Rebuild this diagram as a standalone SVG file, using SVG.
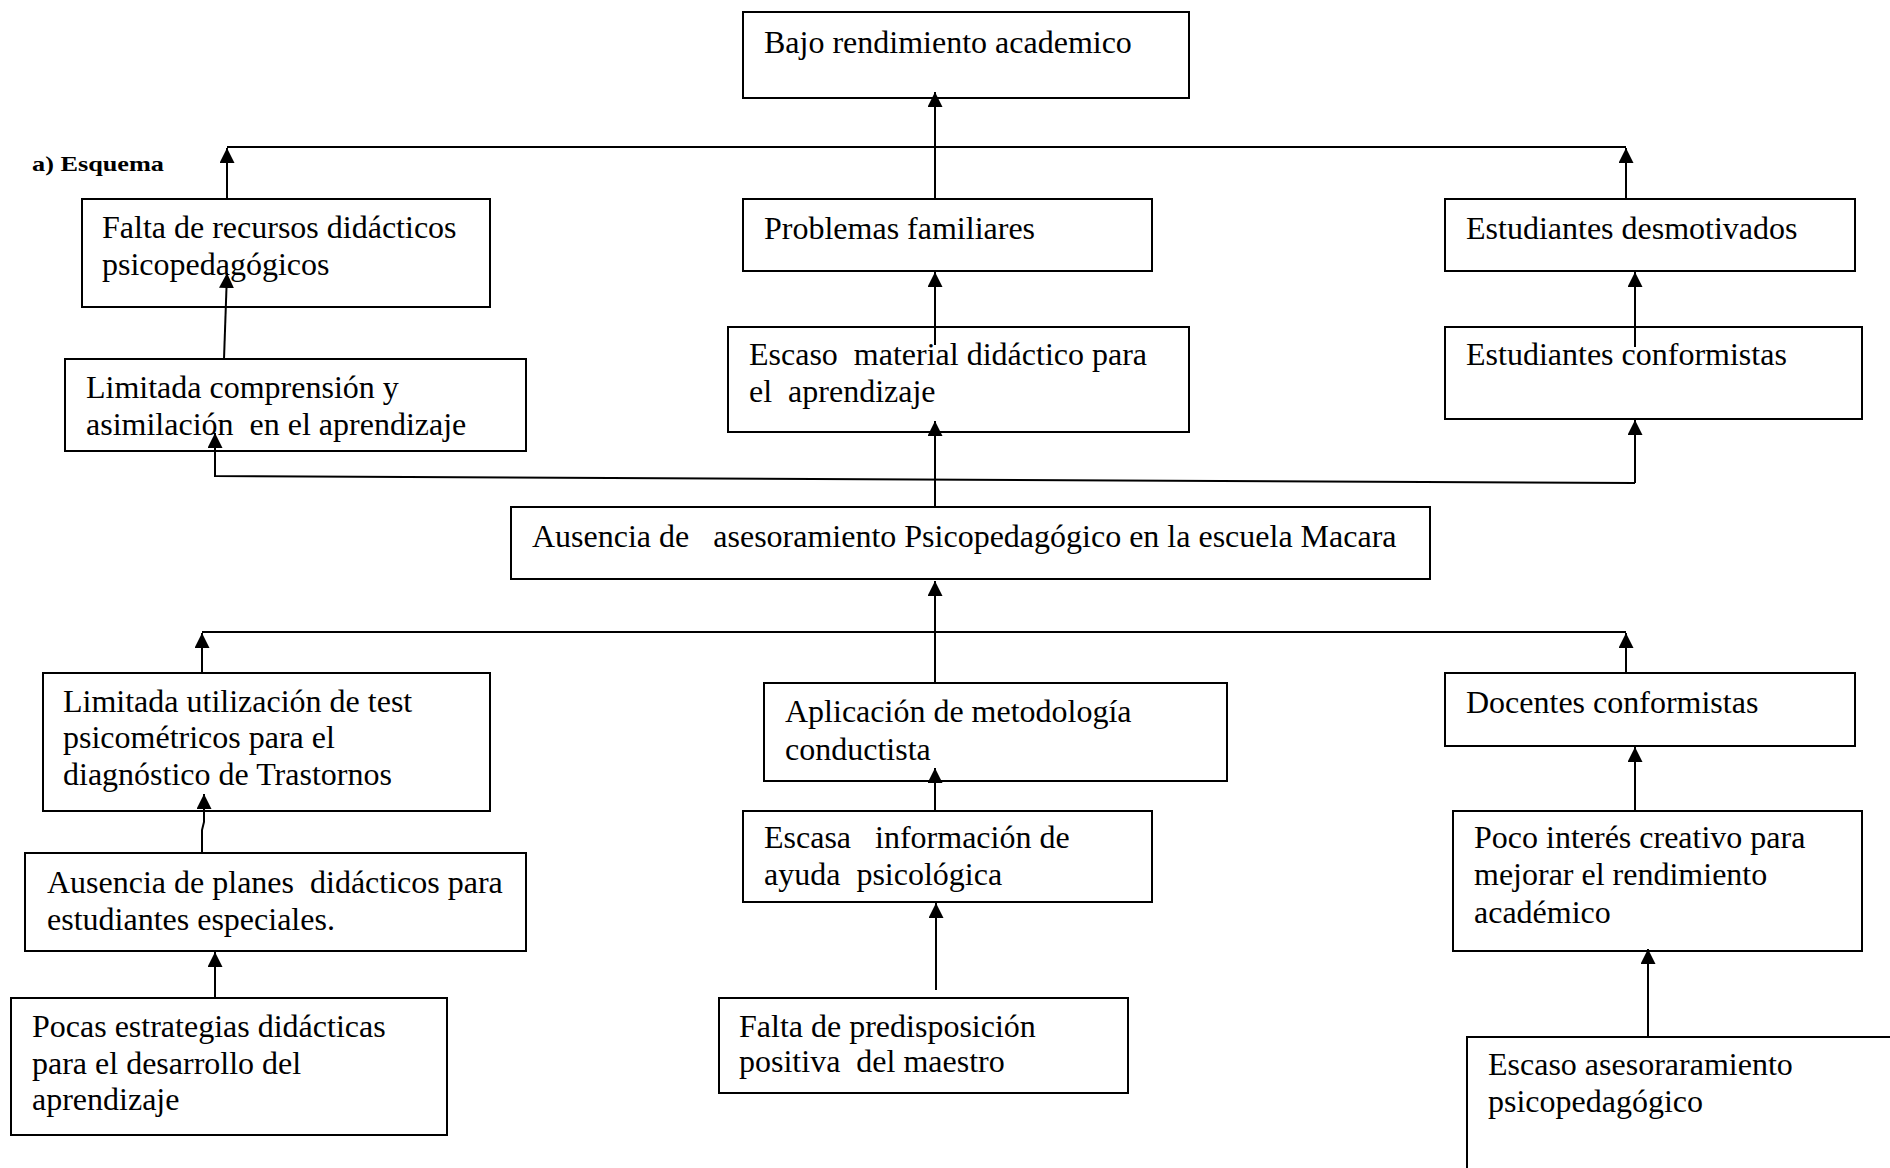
<svg xmlns="http://www.w3.org/2000/svg" width="1890" height="1168" viewBox="0 0 1890 1168">
<style>
.box{fill:#fff;stroke:#000;stroke-width:2}
.t{font-family:"Liberation Serif","Times New Roman",serif;font-size:32px;fill:#000;white-space:pre}
.h{font-family:"Liberation Serif","Times New Roman",serif;font-size:22px;font-weight:bold;fill:#000}
.c{fill:none;stroke:#000;stroke-width:2}
</style>
<defs>
<marker id="ah" markerUnits="userSpaceOnUse" markerWidth="15" markerHeight="15" viewBox="0 0 15 15" refX="15" refY="7.5" orient="auto">
<path d="M0,0 L15,7.5 L0,15 Z" fill="#000"/>
</marker>
</defs>
<rect width="1890" height="1168" fill="#fff"/>
<text class="h" x="32" y="171" textLength="132" lengthAdjust="spacingAndGlyphs">a) Esquema</text>

<g id="n-bajo"><rect class="box" x="743" y="12" width="446" height="86"/><text class="t" x="764" y="53">Bajo rendimiento academico</text></g>
<g id="n-falta-recursos"><rect class="box" x="82" y="199" width="408" height="108"/><text class="t" x="102" y="238">Falta de recursos didácticos</text><text class="t" x="102" y="275">psicopedagógicos</text></g>
<g id="n-problemas"><rect class="box" x="743" y="199" width="409" height="72"/><text class="t" x="764" y="239">Problemas familiares</text></g>
<g id="n-desmotivados"><rect class="box" x="1445" y="199" width="410" height="72"/><text class="t" x="1466" y="239">Estudiantes desmotivados</text></g>
<g id="n-limitada-comp"><rect class="box" x="65" y="359" width="461" height="92"/><text class="t" x="86" y="398">Limitada comprensión y</text><text class="t" x="86" y="435">asimilación  en el aprendizaje</text></g>
<g id="n-escaso-material"><rect class="box" x="728" y="327" width="461" height="105"/><text class="t" x="749" y="365">Escaso  material didáctico para</text><text class="t" x="749" y="402">el  aprendizaje</text></g>
<g id="n-est-conformistas"><rect class="box" x="1445" y="327" width="417" height="92"/><text class="t" x="1466" y="365">Estudiantes conformistas</text></g>
<g id="n-ausencia"><rect class="box" x="511" y="507" width="919" height="72"/><text class="t" x="532" y="547">Ausencia de   asesoramiento Psicopedagógico en la escuela Macara</text></g>
<g id="n-limitada-util"><rect class="box" x="43" y="673" width="447" height="138"/><text class="t" x="63" y="712">Limitada utilización de test</text><text class="t" x="63" y="748">psicométricos para el</text><text class="t" x="63" y="785">diagnóstico de Trastornos</text></g>
<g id="n-aplicacion"><rect class="box" x="764" y="683" width="463" height="98"/><text class="t" x="785" y="722">Aplicación de metodología</text><text class="t" x="785" y="760">conductista</text></g>
<g id="n-docentes"><rect class="box" x="1445" y="673" width="410" height="73"/><text class="t" x="1466" y="713">Docentes conformistas</text></g>
<g id="n-escasa-info"><rect class="box" x="743" y="811" width="409" height="91"/><text class="t" x="764" y="848">Escasa   información de</text><text class="t" x="764" y="885">ayuda  psicológica</text></g>
<g id="n-poco-interes"><rect class="box" x="1453" y="811" width="409" height="140"/><text class="t" x="1474" y="848">Poco interés creativo para</text><text class="t" x="1474" y="885">mejorar el rendimiento</text><text class="t" x="1474" y="923">académico</text></g>
<g id="n-ausencia-planes"><rect class="box" x="25" y="853" width="501" height="98"/><text class="t" x="47" y="893">Ausencia de planes  didácticos para</text><text class="t" x="47" y="930">estudiantes especiales.</text></g>
<g id="n-pocas"><rect class="box" x="11" y="998" width="436" height="137"/><text class="t" x="32" y="1037">Pocas estrategias didácticas</text><text class="t" x="32" y="1074">para el desarrollo del</text><text class="t" x="32" y="1110">aprendizaje</text></g>
<g id="n-falta-predis"><rect class="box" x="719" y="998" width="409" height="95"/><text class="t" x="739" y="1037">Falta de predisposición</text><text class="t" x="739" y="1072">positiva  del maestro</text></g>
<g id="n-escaso-ases"><rect class="box" x="1467" y="1037" width="500" height="200"/><text class="t" x="1488" y="1075">Escaso asesoraramiento</text><text class="t" x="1488" y="1112">psicopedagógico</text></g>

<g id="connectors">
<line class="c" x1="227" y1="147" x2="1626" y2="147"/>
<line class="c" x1="227" y1="199" x2="227" y2="148" marker-end="url(#ah)"/>
<line class="c" x1="1626" y1="199" x2="1626" y2="148" marker-end="url(#ah)"/>
<line class="c" x1="935" y1="199" x2="935" y2="92" marker-end="url(#ah)"/>
<line class="c" x1="224" y1="359" x2="227" y2="273" marker-end="url(#ah)"/>
<line class="c" x1="935" y1="345" x2="935" y2="272" marker-end="url(#ah)"/>
<line class="c" x1="1635" y1="347" x2="1635" y2="272" marker-end="url(#ah)"/>
<polyline class="c" points="1635,483 215,476 215,433" marker-end="url(#ah)"/>
<line class="c" x1="1635" y1="483" x2="1635" y2="420" marker-end="url(#ah)"/>
<line class="c" x1="935" y1="507" x2="935" y2="421" marker-end="url(#ah)"/>
<line class="c" x1="202" y1="632" x2="1626" y2="632"/>
<line class="c" x1="202" y1="673" x2="202" y2="633" marker-end="url(#ah)"/>
<line class="c" x1="1626" y1="673" x2="1626" y2="633" marker-end="url(#ah)"/>
<line class="c" x1="935" y1="683" x2="935" y2="581" marker-end="url(#ah)"/>
<polyline class="c" points="202,853 202,830 204,822 204,794" marker-end="url(#ah)"/>
<line class="c" x1="935" y1="811" x2="935" y2="768" marker-end="url(#ah)"/>
<line class="c" x1="1635" y1="811" x2="1635" y2="747" marker-end="url(#ah)"/>
<line class="c" x1="215" y1="998" x2="215" y2="952" marker-end="url(#ah)"/>
<line class="c" x1="936" y1="990" x2="936" y2="903" marker-end="url(#ah)"/>
<line class="c" x1="1648" y1="1037" x2="1648" y2="949" marker-end="url(#ah)"/>
</g>
</svg>
